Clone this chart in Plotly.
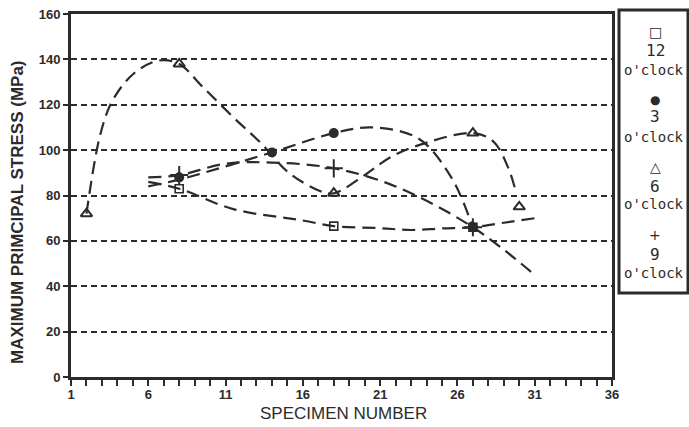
import plotly.graph_objects as go

W, H = 689, 427
ML, MR, MT, MB = 71, 77, 14, 50
PW, PH = W - ML - MR, H - MT - MB

def px2x(px):
    return (px - ML) / PW

def py2y(py):
    return (H - MB - py) / PH

# Marker data (specimen number, stress MPa)
x12 = [8, 18, 27]
y12 = [83, 66.5, 66]
x3 = [8, 14, 18, 27]
y3 = [88, 99, 107.5, 66]
x6 = [2, 8, 18, 27, 30]
y6 = [72, 138, 81, 107.5, 75]
x9 = [8, 18, 27]
y9 = [89, 92, 66]

# Fitted curve paths
c12x = [6, 8, 11.5, 16, 18, 21, 23, 25, 27, 29, 31]
c12y = [86, 83, 74, 69, 66.5, 65.6, 64.8, 65.5, 66, 68, 70]
c3x = [6, 8, 14, 18, 20.5, 23.5, 25.6, 27]
c3y = [84, 87, 99, 107.5, 110, 105, 88, 66]
c6x = [2, 2.9, 3.7, 5.1, 6.7, 8, 9.5, 11.5, 13.3, 15.1, 17.1, 18, 20, 21.7, 24.1, 27, 28.3, 29.3, 29.8]
c6y = [72, 107, 122, 134, 139.5, 138, 128, 114.5, 103, 90, 82, 81, 89, 97, 103.5, 107.5, 104, 92, 81]
c9x = [6, 8, 11, 14, 18, 22, 27, 31]
c9y = [88, 89, 94, 94.5, 92, 84, 66, 45]

xticks = list(range(1, 37))
xlabels = [str(v) if (v - 1) % 5 == 0 else "" for v in xticks]
yticks = [0, 20, 40, 60, 80, 100, 120, 140, 160]

INK = "#2b2b2b"
CURVE_DASH = "13px,7px"
NARROW = "Liberation Sans Narrow, Liberation Sans, Arial"

fig = go.Figure()

for cx, cy in [(c12x, c12y), (c3x, c3y), (c6x, c6y), (c9x, c9y)]:
    fig.add_trace(go.Scatter(x=cx, y=cy, mode="lines",
                             line=dict(color=INK, width=2.2, dash=CURVE_DASH, shape="spline", smoothing=1.0),
                             hoverinfo="skip", showlegend=False))

fig.add_trace(go.Scatter(x=x12, y=y12, mode="markers", name="12 o'clock",
                         marker=dict(symbol="square-open", size=8, color=INK, line=dict(width=1.6, color=INK))))
fig.add_trace(go.Scatter(x=x3, y=y3, mode="markers", name="3 o'clock",
                         marker=dict(symbol="circle", size=10, color=INK)))
fig.add_trace(go.Scatter(x=x6, y=y6, mode="markers", name="6 o'clock",
                         marker=dict(symbol="triangle-up-open", size=10, color=INK, line=dict(width=2, color=INK))))
fig.add_trace(go.Scatter(x=x9, y=y9, mode="markers", name="9 o'clock",
                         marker=dict(symbol="cross-thin-open", size=13, color=INK, line=dict(width=2, color=INK))))

TICKFONT = dict(family=NARROW, size=13, color=INK, weight="bold")

fig.update_xaxes(range=[1, 36], tickmode="array", tickvals=xticks, ticktext=xlabels,
                 ticks="outside", ticklen=6, tickwidth=2, tickcolor=INK, ticklabelstandoff=-3,
                 showline=True, linewidth=3, linecolor=INK, mirror=True,
                 showgrid=False, zeroline=False, tickfont=TICKFONT)
fig.update_yaxes(range=[0, 160], tickmode="array", tickvals=yticks,
                 ticks="outside", ticklen=5, tickwidth=2, tickcolor=INK,
                 showline=True, linewidth=3, linecolor=INK, mirror=True,
                 showgrid=True, gridcolor=INK, gridwidth=2, griddash="6px,4px",
                 zeroline=False, tickfont=TICKFONT)

annots = []
annots.append(dict(text="SPECIMEN NUMBER", x=px2x(343), y=py2y(413), xref="paper", yref="paper",
                   xanchor="center", yanchor="middle",
                   showarrow=False, font=dict(family=NARROW, size=17, color=INK)))
annots.append(dict(text="MAXIMUM PRIMCIPAL STRESS (MPa)", x=px2x(18), y=py2y(212), xref="paper", yref="paper",
                   xanchor="center", yanchor="middle",
                   textangle=-90, showarrow=False,
                   font=dict(family=NARROW, size=17, color=INK, weight="bold")))

leg_sym = ["□", "●", "△", "+"]
leg_num = ["12", "3", "6", "9"]
sym_y = [32, 100, 167, 235]
num_y = [50, 117, 186, 254]
ock_y = [70, 137, 204, 273]
for s, n, sy, ny, oy in zip(leg_sym, leg_num, sym_y, num_y, ock_y):
    annots.append(dict(text=s, x=px2x(655), y=py2y(sy), xref="paper", yref="paper", showarrow=False,
                       xanchor="center", yanchor="middle",
                       font=dict(family="DejaVu Sans", size=14 if s != "●" else 12, color=INK)))
    annots.append(dict(text=n, x=px2x(655), y=py2y(ny), xref="paper", yref="paper", showarrow=False,
                       xanchor="center", yanchor="middle",
                       font=dict(family="DejaVu Sans Mono, monospace", size=16, color=INK)))
    annots.append(dict(text="o'clock", x=px2x(654), y=py2y(oy), xref="paper", yref="paper", showarrow=False,
                       xanchor="center", yanchor="middle",
                       font=dict(family="DejaVu Sans Mono, monospace", size=14, color=INK)))

shapes = [dict(type="rect", xref="paper", yref="paper", x0=px2x(619), x1=px2x(688), y0=py2y(293), y1=py2y(10),
               line=dict(color=INK, width=3), fillcolor="rgba(0,0,0,0)")]

fig.update_layout(width=W, height=H, margin=dict(l=ML, r=MR, t=MT, b=MB, autoexpand=False),
                  paper_bgcolor="white", plot_bgcolor="white", showlegend=False,
                  annotations=annots, shapes=shapes)

fig.write_html("out.html", config={"displayModeBar": False},
               post_script="document.body.style.margin='0';document.body.style.overflow='hidden';")
